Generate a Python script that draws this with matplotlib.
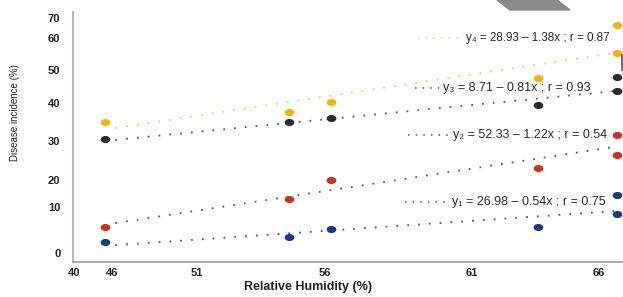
import numpy as np
import matplotlib
matplotlib.use("Agg")
import matplotlib.pyplot as plt
from matplotlib.markers import MarkerStyle
from matplotlib.transforms import Affine2D
from matplotlib.lines import Line2D
from matplotlib.patches import Polygon

# ---- data ----
humidity = [44.9, 54.6, 56.2, 63.6, 66.7, 66.7]
y4_vals = [35.0, 37.6, 40.3, 47.6, 55.3, 66.5]   # yellow
y3_vals = [30.5, 35.0, 36.1, 39.5, 43.6, 47.9]   # black
y2_vals = [5.7, 13.0, 20.0, 23.1, 26.4, 31.6]    # red
y1_vals = [2.4, 3.5, 5.2, 5.7, 8.5, 14.4]        # blue

trend_x = [46.2, 66.6]
y4_trend = [33.4, 55.3]
y3_trend = [30.3, 43.6]
y2_trend = [6.5, 28.5]
y1_trend = [1.7, 9.1]

x_ticks = [40, 46, 51, 56, 61, 66]
y_ticks = [0, 10, 20, 30, 40, 50, 60, 70]

equations = [
    "y\u2084 = 28.93 \u2013 1.38x ; r = 0.87",
    "y\u2083 = 8.71 \u2013 0.81x ; r = 0.93",
    "y\u2082 = 52.33 \u2013 1.22x ; r = 0.54",
    "y\u2081 = 26.98 \u2013 0.54x ; r = 0.75",
]

W, H = 623, 297

# the original axes are not evenly spaced: piecewise scale through tick positions
xs_val = [30, 40, 46, 51, 56, 61, 66, 80]
xs_px = [10.7, 74, 112, 197, 325, 472, 599, 954.6]
ys_val = [-20, 0, 10, 20, 30, 40, 50, 60, 70, 100]
ys_px = [345, 253, 207, 180, 141, 103, 70, 38, 18, -42]
ys_pos = [-p for p in ys_px]


def x_fwd(v):
    return np.interp(v, xs_val, xs_px)


def x_inv(p):
    return np.interp(p, xs_px, xs_val)


def y_fwd(v):
    return np.interp(v, ys_val, ys_pos)


def y_inv(p):
    return np.interp(p, ys_pos, ys_val)


def px(x, y):
    return x / W, 1 - y / H


plt.rcParams['font.family'] = ['Liberation Sans', 'DejaVu Sans']

fig = plt.figure(figsize=(W / 100, H / 100), dpi=100)
ax_left, ax_right, ax_top, ax_bot = 73, 623, 12, 262
ax = fig.add_axes([ax_left / W, 1 - ax_bot / H, (ax_right - ax_left) / W, (ax_bot - ax_top) / H])
ax.set_xscale('function', functions=(x_fwd, x_inv))
ax.set_yscale('function', functions=(y_fwd, y_inv))
ax.set_xlim(x_inv(ax_left), x_inv(ax_right))
ax.set_ylim(y_inv(-ax_bot), y_inv(-ax_top))

series = [
    (y4_vals, y4_trend, '#f2b705', '#e3cf6a'),
    (y3_vals, y3_trend, '#2b2b2b', '#555555'),
    (y2_vals, y2_trend, '#c9341b', '#555555'),
    (y1_vals, y1_trend, '#143c85', '#555555'),
]
ell = MarkerStyle('o', transform=Affine2D().scale(1.45, 1))
for vals, trend, col, tcol in series:
    ax.plot(trend_x, trend, color=tcol, lw=1.3, ls=(0, (1, 5)), zorder=2)
    ax.plot(humidity, vals, ls='none', marker=ell, ms=4.1, color=col,
            mec=col, zorder=3, clip_on=False)

ax.set_xticks(x_ticks)
ax.set_xticklabels([str(t) for t in x_ticks])
ax.set_yticks(y_ticks)
ax.set_yticklabels([str(t) for t in y_ticks])
ax.minorticks_off()
ax.tick_params(axis='both', length=0, labelsize=8, colors='#222222')
ax.tick_params(axis='x', pad=4)
ax.tick_params(axis='y', pad=9)
for lab in ax.get_xticklabels() + ax.get_yticklabels():
    lab.set_fontweight('bold')

for s in ['top', 'right']:
    ax.spines[s].set_visible(False)
ax.spines['left'].set_color('#b8b8b8')
ax.spines['left'].set_linewidth(1.5)
ax.spines['bottom'].set_color('#a0a0a0')
ax.spines['bottom'].set_linewidth(1.2)

fig.text(*px(308, 287), "Relative Humidity (%)", ha='center', va='center',
         fontsize=9, fontweight='bold', color='#222222')
fig.text(*px(15, 113), "Disease incidence (%)", ha='center', va='center',
         rotation=90, fontsize=7, color='#222222')

# equation labels with their dotted keys (text x, y, key start, key end, key colour, size)
eq_pos = [(466, 38, 418, 461, '#e3cf6a', 8.4),
          (443, 88, 415, 440, '#555555', 9),
          (453, 135, 408, 450, '#555555', 9),
          (452, 202, 405, 448, '#555555', 9)]
for text, (tx, ty, k0, k1, kc, fs) in zip(equations, eq_pos):
    fig.text(*px(tx, ty), text, ha='left', va='center', fontsize=fs,
             color='#2a2a2a')
    xa, ya = px(k0, ty)
    xb, _ = px(k1, ty)
    fig.add_artist(Line2D([xa, xb], [ya, ya], color=kc, lw=1.1, ls=(0, (1, 4))))

# scan artifacts in the top right corner
fig.add_artist(Polygon([px(497, 0), px(557, 0), px(570, 10), px(510, 10)],
                       closed=True, color='#8a8a8a', transform=fig.transFigure))
fig.add_artist(Line2D([px(622, 55)[0]] * 2, [px(622, 55)[1], px(622, 70)[1]],
                      color='#555555', lw=1.2))

fig.savefig("out.png", dpi=100)
